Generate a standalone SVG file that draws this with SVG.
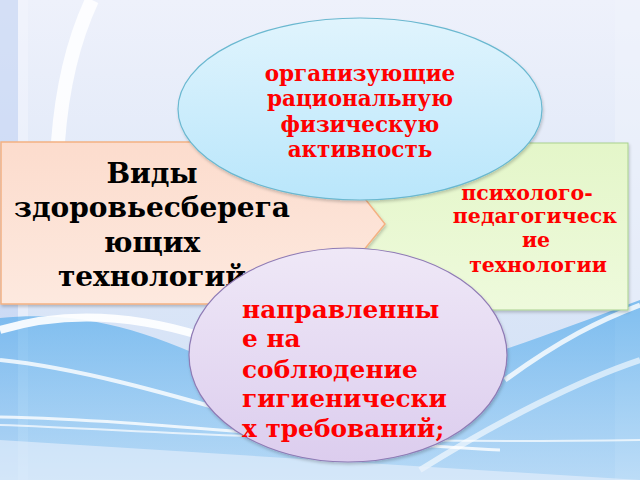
<svg xmlns="http://www.w3.org/2000/svg" width="640" height="480" viewBox="0 0 640 480">
<defs>
<linearGradient id="bg" x1="0" y1="0" x2="0" y2="1">
<stop offset="0" stop-color="#eef1fb"/>
<stop offset="0.55" stop-color="#dce6f7"/>
<stop offset="1" stop-color="#cfe0f6"/>
</linearGradient>
<linearGradient id="wave" x1="0" y1="0" x2="0" y2="1">
<stop offset="0" stop-color="#4aa6ea"/>
<stop offset="1" stop-color="#a9d5f6"/>
</linearGradient>
<linearGradient id="peach" x1="0" y1="0" x2="0" y2="1">
<stop offset="0" stop-color="#fcdccd"/>
<stop offset="1" stop-color="#fde9df"/>
</linearGradient>
<linearGradient id="green" x1="0" y1="0" x2="0" y2="1">
<stop offset="0" stop-color="#e4f6c9"/>
<stop offset="1" stop-color="#eefadc"/>
</linearGradient>
<linearGradient id="blue" x1="0" y1="0" x2="0" y2="1">
<stop offset="0" stop-color="#e0f4fd"/>
<stop offset="1" stop-color="#b9e6fb"/>
</linearGradient>
<linearGradient id="lav" x1="0" y1="0" x2="0" y2="1">
<stop offset="0" stop-color="#efe8f7"/>
<stop offset="1" stop-color="#dccdee"/>
</linearGradient>
<filter id="sh" x="-10%" y="-10%" width="130%" height="130%">
<feDropShadow dx="1" dy="2" stdDeviation="1.5" flood-color="#000" flood-opacity="0.2"/>
</filter>
</defs>
<style>
.red{fill:#ff0000;font-family:"DejaVu Serif",serif;font-weight:bold;}
.blk{fill:#000;font-family:"DejaVu Serif",serif;font-weight:bold;text-anchor:middle;}
</style>
<g id="background">
<rect width="640" height="480" fill="url(#bg)"/>
<rect x="0" y="0" width="18" height="480" fill="#c3d3f4" opacity="0.6"/>
<rect x="18" y="0" width="10" height="480" fill="#f4f6fd" opacity="0.5"/>
<path d="M92,0 Q64,60 58,142" stroke="#ffffff" stroke-width="14" fill="none" opacity="0.85"/>
<rect x="615" y="0" width="25" height="480" fill="#f0f3fc" opacity="0.5"/>
<path d="M0,318 C80,310 150,330 230,370 C330,420 480,360 640,300 L640,480 L0,480 Z" fill="url(#wave)" opacity="0.65"/>
<path d="M0,330 C100,300 200,330 260,360" stroke="#ffffff" stroke-width="8" fill="none" opacity="0.9"/>
<path d="M0,360 C100,370 220,410 330,440" stroke="#ffffff" stroke-width="4" fill="none" opacity="0.8"/>
<path d="M0,417 C150,420 300,440 500,450" stroke="#ffffff" stroke-width="3" fill="none" opacity="0.8"/>
<path d="M0,425 C150,430 300,445 640,440" stroke="#ffffff" stroke-width="2" fill="none" opacity="0.7"/>
<path d="M505,380 C560,340 600,320 640,305" stroke="#ffffff" stroke-width="5" fill="none" opacity="0.8"/>
<path d="M420,470 C500,420 580,380 640,360" stroke="#ffffff" stroke-width="6" fill="none" opacity="0.6"/>
<path d="M0,440 L640,480 L0,480 Z" fill="#e8f0fb" opacity="0.6"/>
</g>
<g id="connectors"></g>
<g id="node-right">
<rect x="300" y="143" width="328" height="167" fill="url(#green)" stroke="#a9d18e" stroke-width="1" filter="url(#sh)"/>
<text class="red" font-size="20.5" text-anchor="middle"><tspan x="527" y="200">психолого-</tspan><tspan x="535" y="223">педагогическ</tspan><tspan x="536" y="247">ие</tspan><tspan x="538" y="272">технологии</tspan></text>
</g>
<g id="node-left">
<path d="M1,142 L320,142 L385,224 L320,304 L1,304 Z" fill="url(#peach)" stroke="#f4b183" stroke-width="1.5" filter="url(#sh)"/>
<text class="blk" font-size="28"><tspan x="152" y="183">Виды</tspan><tspan x="152" y="217">здоровьесберега</tspan><tspan x="152" y="252">ющих</tspan><tspan x="152" y="286">технологий</tspan></text>
</g>
<g id="node-top">
<ellipse cx="360" cy="109" rx="182" ry="91" fill="url(#blue)" stroke="#6ab8d0" stroke-width="1.2" filter="url(#sh)"/>
<text class="red" font-size="21.5" text-anchor="middle"><tspan x="360" y="81">организующие</tspan><tspan x="360" y="106">рациональную</tspan><tspan x="360" y="132">физическую</tspan><tspan x="360" y="157">активность</tspan></text>
</g>
<g id="node-bottom">
<ellipse cx="348" cy="355" rx="159" ry="107" fill="url(#lav)" stroke="#8f7bb5" stroke-width="1.2" filter="url(#sh)"/>
<text class="red" font-size="24.8"><tspan x="242" y="318">направленны</tspan><tspan x="242" y="347">е на</tspan><tspan x="242" y="378">соблюдение</tspan><tspan x="242" y="407">гигиенически</tspan><tspan x="242" y="437">х требований;</tspan></text>
</g>
</svg>
